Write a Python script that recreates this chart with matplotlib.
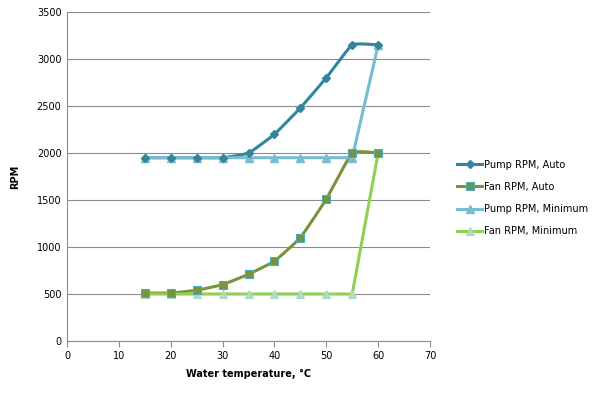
import matplotlib
matplotlib.use("Agg")
import matplotlib.pyplot as plt
import numpy as np

temp = [15, 20, 25, 30, 35, 40, 45, 50, 55, 60]
pump_auto = [1950, 1950, 1950, 1950, 2000, 2200, 2480, 2800, 3150, 3150]
fan_auto = [510, 510, 540, 600, 710, 850, 1100, 1510, 2000, 2000]
pump_min = [1950, 1950, 1950, 1950, 1950, 1950, 1950, 1950, 1950, 3150]
fan_min = [500, 500, 500, 500, 500, 500, 500, 500, 500, 2000]


def smooth(x, y, n=20, k=0.4):
    # catmull-rom style curve through the points, like Excel's smoothed line
    px = np.asarray(x, float)
    py = np.asarray(y, float)
    px = np.concatenate([[px[0]], px, [px[-1]]])
    py = np.concatenate([[py[0]], py, [py[-1]]])
    t = np.linspace(0, 1, n)
    h00 = 2 * t**3 - 3 * t**2 + 1
    h10 = t**3 - 2 * t**2 + t
    h01 = -2 * t**3 + 3 * t**2
    h11 = t**3 - t**2
    xs, ys = [], []
    for i in range(1, len(px) - 2):
        for p, out in ((px, xs), (py, ys)):
            m1 = (p[i + 1] - p[i - 1]) / 2 * k
            m2 = (p[i + 2] - p[i]) / 2 * k
            out.extend(h00 * p[i] + h10 * m1 + h01 * p[i + 1] + h11 * m2)
    return np.array(xs), np.array(ys)


plt.rcParams['font.family'] = ['DejaVu Sans']
fig = plt.figure(figsize=(6, 3.96), dpi=100)
ax = fig.add_axes([0.1117, 0.1389, 0.605, 0.8308])

c_pa = "#31859C"
c_fa = "#77933C"
c_pm = "#78BCD0"
c_fm = "#92D050"
edge = "#4BACC6"

sx, sy = smooth(temp, pump_auto)
ax.plot(sx, sy, color=c_pa, lw=2.2, zorder=3)
ax.plot(temp, pump_auto, ls="none", marker="D", ms=4, color=c_pa, zorder=5)
ax.plot([], [], color=c_pa, lw=2.2, marker="D", ms=4, label="Pump RPM, Auto")

sx, sy = smooth(temp, fan_auto)
ax.plot(sx, sy, color=c_fa, lw=2.2, zorder=3)
ax.plot(temp, fan_auto, ls="none", marker="s", ms=6, color=c_fa,
        mec=edge, mew=0.8, zorder=5)
ax.plot([], [], color=c_fa, lw=2.2, marker="s", ms=6, mec=edge, mew=0.8,
        label="Fan RPM, Auto")

ax.plot(temp, pump_min, color=c_pm, lw=2.2, marker="^", ms=6, zorder=4,
        label="Pump RPM, Minimum")
ax.plot(temp, fan_min, color=c_fm, lw=2.2, marker="^", ms=6, mfc="#B7DDB0",
        mec="#A9D8C8", mew=0.8, zorder=4, label="Fan RPM, Minimum")

ax.set_xlim(0, 70)
ax.set_ylim(0, 3500)
ax.set_xticks(range(0, 71, 10))
ax.set_yticks(range(0, 3501, 500))
ax.yaxis.grid(True, color="#8C8C8C", lw=0.8)
ax.set_axisbelow(True)
for s in ("top", "right"):
    ax.spines[s].set_visible(False)
for s in ("left", "bottom"):
    ax.spines[s].set_color("#8C8C8C")
ax.tick_params(axis="y", length=0, labelsize=7, pad=4)
ax.tick_params(axis="x", length=4, color="#8C8C8C", labelsize=7, pad=3)
ax.set_xlabel("Water temperature, °C", fontsize=7, fontweight="bold", labelpad=6)
ax.set_ylabel("RPM", fontsize=7, fontweight="bold", labelpad=12)

ax.legend(loc="center left", bbox_to_anchor=(1.05, 0.435), frameon=False,
          fontsize=7, handlelength=2.6, handletextpad=0.15, labelspacing=1.25)

fig.savefig("out.png", dpi=100)
